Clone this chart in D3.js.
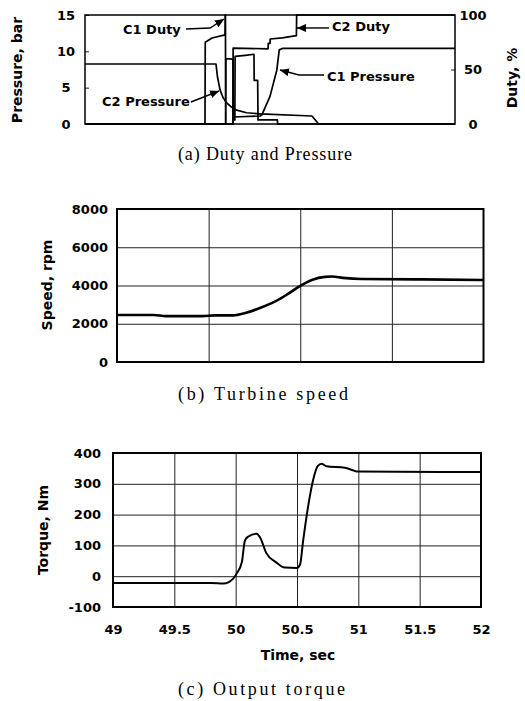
<!DOCTYPE html>
<html>
<head>
<meta charset="utf-8">
<script src="https://cdn.jsdelivr.net/npm/d3@7"></script>
<style>
  body { margin: 0; background: #fff; }
  svg { display: block; }
</style>
</head>
<body>
<svg id="chart" width="525" height="701"></svg>
<script>
// Shift transient: (a) clutch duty + pressure, (b) turbine speed, (c) output torque.
// All three share the 49..52 s time span.
const timeSpan = [49, 52];
const timeTicks = [49, 49.5, 50, 50.5, 51, 51.5, 52];
const speedGridTimes = [49.75, 50.5, 51.25];
const pressureTicks = [0, 5, 10, 15];
const dutyTicks = [0, 50, 100];
const speedTicks = [0, 2000, 4000, 6000, 8000];
const torqueTicks = [-100, 0, 100, 200, 300, 400];

// [time s, duty %]
const c1Duty = [[49, 0], [49.973, 0], [49.975, 75], [50.03, 78.9], [50.135, 81.7], [50.136, 100],
  [50.139, 100], [50.14, 0], [50.142, 0], [50.143, 60], [50.2, 59.5], [50.201, 3.7], [50.215, 3.7],
  [50.217, 62], [50.3, 63], [50.37, 64], [50.372, 40], [50.4, 40], [50.403, 3.7], [50.56, 3.7],
  [50.562, 0], [52, 0]];
const c2Duty = [[49, 0], [50.2, 0], [50.201, 69.7], [50.484, 69], [50.486, 74], [50.5, 74],
  [50.502, 78], [50.6, 79], [50.714, 81], [50.716, 100], [52, 100]];
// [time s, pressure bar]
const c1Pressure = [[49, 0], [50.2, 0], [50.201, 0.96], [50.42, 1.1], [50.435, 1.3], [50.5, 3.8],
  [50.555, 7.4], [50.575, 10.2], [50.6, 10.4], [52, 10.4]];
const c2Pressure = [[49, 8.26], [50.062, 8.26], [50.074, 6.5], [50.095, 4.7], [50.12, 3.6],
  [50.149, 2.9], [50.19, 2.3], [50.23, 1.9], [50.31, 1.55], [50.42, 1.4], [50.84, 1.1],
  [50.895, 0], [52, 0]];
// [time s, rpm]
const turbineSpeed = [[49, 2460], [49.3, 2460], [49.4, 2400], [49.7, 2400], [49.8, 2440],
  [49.95, 2440], [50.05, 2560], [50.2, 2900], [50.3, 3180], [50.4, 3560], [50.5, 3980],
  [50.6, 4300], [50.7, 4450], [50.76, 4470], [50.85, 4400], [51.0, 4340], [51.5, 4320], [52, 4290]];
// [time s, Nm]
const outputTorque = [[49, -22], [49.8, -22], [49.9, -24], [49.98, -8], [50.01, 10], [50.05, 45],
  [50.075, 115], [50.1, 128], [50.17, 138], [50.2, 125], [50.25, 75], [50.33, 45], [50.4, 28],
  [50.5, 27], [50.525, 38], [50.55, 115], [50.59, 225], [50.63, 310], [50.67, 358], [50.7, 365],
  [50.74, 357], [50.89, 352], [50.95, 345], [50.99, 340], [52, 338]];

const BOLD = "DejaVu Sans, sans-serif";
const svg = d3.select("#chart");
svg.append("rect").attr("width", 525).attr("height", 701).attr("fill", "#fff");
svg.append("defs").append("marker").attr("id", "arr")
  .attr("markerUnits", "userSpaceOnUse").attr("markerWidth", 9).attr("markerHeight", 8)
  .attr("refX", 9).attr("refY", 4).attr("orient", "auto")
  .append("path").attr("d", "M0,0 L9,4 L0,8 z").attr("fill", "#000");

const styleAxis = (g, anchor, dx) => {
  g.select(".domain").remove();
  g.selectAll("line").attr("stroke", "#222").attr("stroke-width", 1);
  g.selectAll("text").attr("font-family", BOLD).attr("font-weight", "bold")
    .attr("font-size", 13).attr("fill", "#000");
  if (anchor) g.selectAll("text").attr("text-anchor", anchor).attr("x", dx);
};
const title = (x, y, txt, rot) => svg.append("text")
  .attr("transform", `translate(${x},${y})${rot ? " rotate(-90)" : ""}`)
  .attr("text-anchor", "middle").attr("font-family", BOLD).attr("font-weight", "bold")
  .attr("font-size", 14).text(txt);
const caption = (x, y, txt, len) => svg.append("text").attr("x", x).attr("y", y)
  .attr("font-family", "Liberation Serif, serif").attr("font-size", 18)
  .attr("textLength", len).attr("lengthAdjust", "spacing").text(txt);
const frame = (x0, x1, y0, y1, sw) => svg.append("rect").attr("x", x0).attr("y", y0)
  .attr("width", x1 - x0).attr("height", y1 - y0).attr("fill", "none")
  .attr("stroke", "#000").attr("stroke-width", sw);
const plain = (d) => String(d);

// ---------- (a) Duty and Pressure ----------
const xa = d3.scaleLinear(timeSpan, [85, 455]);
const yp = d3.scaleLinear([0, 15], [124, 15]);
const yd = d3.scaleLinear([0, 100], [124, 15]);
svg.append("g").attr("transform", "translate(85,0)")
  .call(d3.axisLeft(yp).tickValues(pressureTicks).tickSize(-4).tickFormat(plain))
  .call((g) => styleAxis(g, "middle", -19));
svg.append("g").attr("transform", "translate(455,0)")
  .call(d3.axisRight(yd).tickValues(dutyTicks).tickSize(-4).tickFormat(plain))
  .call((g) => styleAxis(g, "middle", 18));
frame(85, 455, 15, 124, 1.5);

const lineP = d3.line().x((d) => xa(d[0])).y((d) => yp(d[1]));
const lineD = d3.line().x((d) => xa(d[0])).y((d) => yd(d[1]));
[[c2Pressure, lineP], [c1Pressure, lineP], [c1Duty, lineD], [c2Duty, lineD]].forEach(([data, gen]) =>
  svg.append("path").datum(data).attr("d", gen).attr("fill", "none")
    .attr("stroke", "#000").attr("stroke-width", 1.7).attr("stroke-linejoin", "round"));

// labels with arrows, placed in data coordinates
const notes = [
  { txt: "C1 Duty", at: [49.308, 82.6], y: yd, arrow: [[49.819, 87.2], [50.014, 88.1], [50.127, 96.3]] },
  { txt: "C2 Duty", at: [51.003, 85.3], y: yd, arrow: [[50.978, 88.1], [50.719, 88.1]] },
  { txt: "C2 Pressure", at: [49.138, 2.48], y: yp, arrow: [[49.859, 3.03], [50.087, 4.54]] },
  { txt: "C1 Pressure", at: [50.962, 5.92], y: yp, arrow: [[50.938, 6.74], [50.735, 6.74], [50.581, 7.43]] },
];
notes.forEach((n) => {
  svg.append("text").attr("x", xa(n.at[0])).attr("y", n.y(n.at[1]))
    .attr("font-family", BOLD).attr("font-weight", "bold").attr("font-size", 13).text(n.txt);
  svg.append("path").datum(n.arrow)
    .attr("d", d3.line().x((d) => xa(d[0])).y((d) => n.y(d[1])))
    .attr("fill", "none").attr("stroke", "#000").attr("stroke-width", 1.4)
    .attr("marker-end", "url(#arr)");
});
title(22, 70, "Pressure, bar", true);
title(517, 78, "Duty, %", true);
caption(178, 160, "(a)  Duty and Pressure", 174);

// ---------- (b) Turbine speed ----------
const xb = d3.scaleLinear(timeSpan, [117, 483.5]);
const ys = d3.scaleLinear([0, 8000], [362, 209]);
svg.append("g").attr("transform", "translate(117,0)")
  .call(d3.axisLeft(ys).tickValues(speedTicks).tickSize(-(483.5 - 117)).tickPadding(9).tickFormat(plain))
  .call((g) => styleAxis(g));
svg.append("g").attr("transform", "translate(0,362)")
  .call(d3.axisBottom(xb).tickValues(speedGridTimes).tickSize(-(362 - 209)).tickFormat(""))
  .call((g) => styleAxis(g));
frame(117, 483.5, 209, 362, 2);
svg.append("path").datum(turbineSpeed)
  .attr("d", d3.line().curve(d3.curveMonotoneX).x((d) => xb(d[0])).y((d) => ys(d[1])))
  .attr("fill", "none").attr("stroke", "#000").attr("stroke-width", 2.6);
title(52, 285, "Speed, rpm", true);
caption(178, 400, "(b)  Turbine speed", 170);

// ---------- (c) Output torque ----------
const xc = d3.scaleLinear(timeSpan, [113, 481]);
const yt = d3.scaleLinear([-100, 400], [607, 453]);
svg.append("g").attr("transform", "translate(113,0)")
  .call(d3.axisLeft(yt).tickValues(torqueTicks).tickSize(-(481 - 113)).tickPadding(12).tickFormat(plain))
  .call((g) => styleAxis(g));
svg.append("g").attr("transform", "translate(0,607)")
  .call(d3.axisBottom(xc).tickValues(timeTicks).tickSize(-(607 - 453)).tickFormat(""))
  .call((g) => styleAxis(g));
svg.append("g").attr("transform", "translate(0,607)")
  .call(d3.axisBottom(xc).tickValues(timeTicks).tickSize(0).tickPadding(18).tickFormat(plain))
  .call((g) => styleAxis(g));
frame(113, 481, 453, 607, 2);
svg.append("path").datum(outputTorque)
  .attr("d", d3.line().curve(d3.curveMonotoneX).x((d) => xc(d[0])).y((d) => yt(d[1])))
  .attr("fill", "none").attr("stroke", "#000").attr("stroke-width", 2);
title(48, 530, "Torque, Nm", true);
title(298, 660, "Time, sec", false);
caption(178, 695, "(c)  Output torque", 167);
</script>
</body>
</html>
